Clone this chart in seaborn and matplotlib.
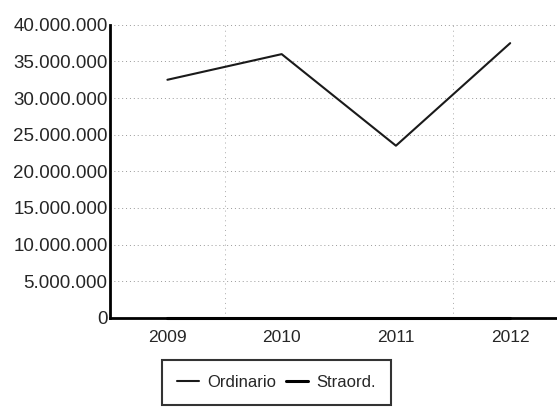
import pandas as pd
import matplotlib.pyplot as plt
import matplotlib.ticker as mticker
import seaborn as sns

# =====================================
# Data
# =====================================
YEARS = ["2009", "2010", "2011", "2012"]
ORDINARIO = [32_500_000, 36_000_000, 23_500_000, 37_500_000]
STRAORD = [0, 0, 0, 0]
Y_TICKS = [0, 5_000_000, 10_000_000, 15_000_000, 20_000_000,
           25_000_000, 30_000_000, 35_000_000, 40_000_000]


def build_frame():
    return pd.DataFrame({
        "year": list(range(len(YEARS))) * 2,
        "value": ORDINARIO + STRAORD,
        "series": ["Ordinario"] * len(YEARS) + ["Straord."] * len(YEARS),
    })


def dotted_number(v, pos):
    return f"{int(v):,}".replace(",", ".")


def main():
    sns.set_style("white")
    plt.rcParams["font.family"] = ["Liberation Sans", "DejaVu Sans"]

    df = build_frame()

    fig = plt.figure(figsize=(5.57, 4.07), dpi=100)
    ax = fig.add_axes([0.198, 0.219, 0.80, 0.72])

    sns.lineplot(data=df[df["series"] == "Ordinario"], x="year", y="value",
                 color="#1a1a1a", linewidth=1.5, label="Ordinario", ax=ax)
    sns.lineplot(data=df[df["series"] == "Straord."], x="year", y="value",
                 color="black", linewidth=2.2, label="Straord.", ax=ax,
                 clip_on=False)

    ax.set_xlim(-0.5, 3.4)
    ax.set_ylim(0, 40_000_000)
    ax.set_xticks(range(len(YEARS)))
    ax.set_xticklabels(YEARS, fontsize=12.5)
    ax.set_yticks(Y_TICKS)
    ax.yaxis.set_major_formatter(mticker.FuncFormatter(dotted_number))
    ax.tick_params(axis="y", labelsize=13.5, length=0, pad=2)
    ax.tick_params(axis="x", length=0, pad=9)
    ax.set_xlabel("")
    ax.set_ylabel("")

    # dotted grid
    for y in Y_TICKS[1:]:
        ax.axhline(y, color="#999999", linewidth=0.7, linestyle=(0, (1, 3)), zorder=0)
    for x in [0.5, 2.5]:
        ax.axvline(x, color="#aaaaaa", linewidth=0.7, linestyle=(0, (1, 4)), zorder=0)

    sns.despine(ax=ax, top=True, right=True)
    for side in ["left", "bottom"]:
        ax.spines[side].set_linewidth(2)
        ax.spines[side].set_color("black")

    ax.get_legend().remove()
    handles, labels = ax.get_legend_handles_labels()
    leg = fig.legend(handles, labels, loc="center", bbox_to_anchor=(0.496, 0.06),
                     ncol=2, frameon=True, fancybox=False, fontsize=12,
                     handlelength=1.3, columnspacing=0.6, handletextpad=0.5,
                     borderpad=0.9)
    leg.get_frame().set_edgecolor("black")
    leg.get_frame().set_linewidth(1.5)

    fig.savefig("out.png", dpi=100)
    plt.close(fig)


if __name__ == "__main__":
    main()
